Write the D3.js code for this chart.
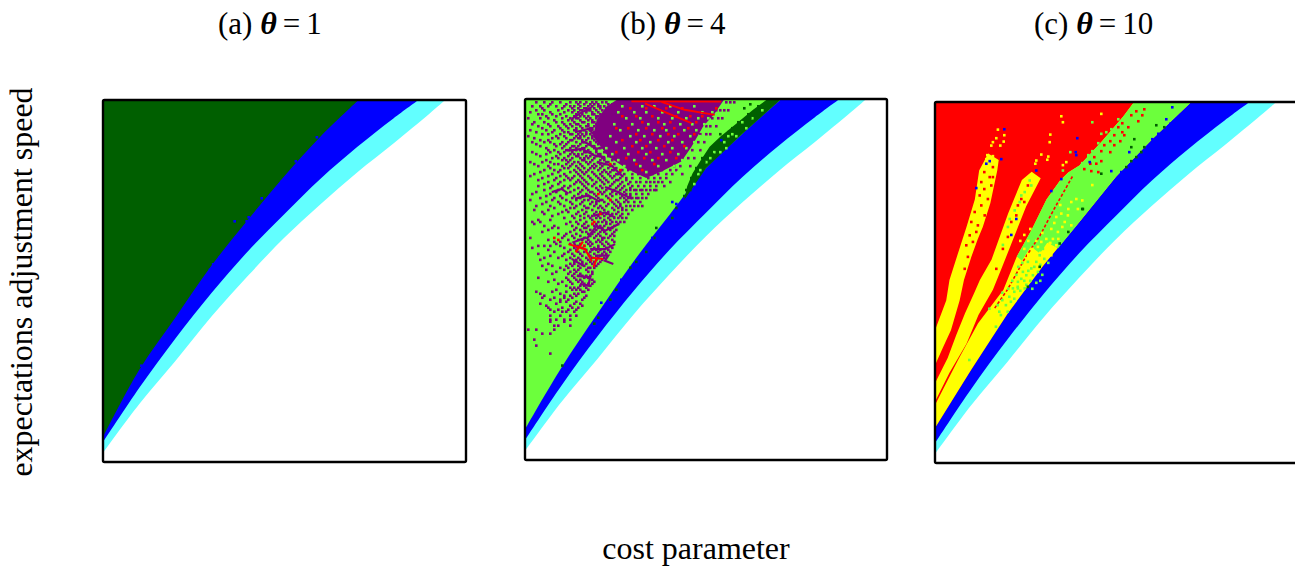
<!DOCTYPE html>
<html>
<head>
<meta charset="utf-8">
<script src="https://cdn.jsdelivr.net/npm/d3@7"></script>
<style>
  html, body { margin: 0; padding: 0; background: #fff; overflow: hidden; }
  text { font-family: "Liberation Serif", serif; fill: #000; }
</style>
</head>
<body>
<div id="chart"></div>
<script>
// region edges: [cost, speed], both as % of the frame
const whiteEdge = [[0,2.5],[10,16],[20,28],[30,40.3],[40,51.5],[50,62],[60,71.3],[70,80],[80,88],[90,96.3],[94.3,100]];
const cyanEdge = [[0,5.5],[10,20.5],[20,34.2],[30,46.8],[40,58.3],[50,68.5],[60,78.3],[70,87],[80,94.9],[86.9,100]];
const blueEdgeA = [[0,6.9],[10,25.5],[20,40],[30,54.4],[40,67],[50,79],[60,90],[70.4,100]];
const blueEdgeB = [[0,8.5],[10,25.5],[20,40.5],[30,55],[40,68],[50,80.8],[60,90.3],[70.8,100]];
const blueEdgeC = [[0,9.7],[10,25.8],[20,41.3],[30,54.8],[40,66.9],[50,79.3],[60,89.7],[70.8,100]];

// panel b shapes
const purpleCore = [[25.7,100],[55.1,100],[52.4,96],[49.2,92.4],[46,86.8],[43.2,82.7],[37.7,79.9],[33.5,78.1],[28.5,80.4],[23,84.1],[18.8,89.6],[19.8,94.2],[22.5,97.9]];
const darkBandB = [[67,100],[63,97],[58.5,93.3],[54,89.6],[51,86.8],[48.6,83.1],[46.3,79.4],[44.8,75.8],[44,72],[50,80.8],[60,90.3],[70.8,100]];
const purpleChains = [
  [[17,61.2],[19.8,64.9],[22.1,63.5],[25.8,65.3]],
  [[18,58.4],[22.1,58.4],[24.9,59.8]],
  [[19.8,56.6],[23,56.6],[22.1,55.2],[24.4,54.3]],
  [[12.9,55.7],[16.1,53.8]],
  [[14.3,51],[18,50.6],[17.5,48.3],[15.2,48.8]],
  [[18.9,67.6],[22.1,68.6],[24.9,67.2]],
  [[14.7,58.4],[13.4,60.3],[17,61.7]],
  [[12,85.7],[15.7,86.2],[19.3,84.3],[22.1,83.9]],
  [[19.8,82.5],[23.9,81.6],[26.7,78.8]],
  [[22.1,75.6],[25.8,74.2],[29.5,72.4]],
  [[13.8,72.4],[17.5,73.3],[20.7,71.5]],
  [[7.4,74.2],[10.1,75.1],[12,73.8]],
  [[12.9,94.5],[15.7,96.3],[18.4,97.7]],
  [[13.8,90.8],[17.5,91.7],[19.8,89.4]],
  [[16.6,88],[19.8,86.2],[23,87.1]]
];
const redStreaksB = [
  [[29.4,99.4],[54.2,99.3]],
  [[33.1,98.8],[39.5,96],[46,93.3]],
  [[37.7,99.2],[44.1,97],[52.4,95.6]],
  [[12,59.8],[16.6,58.4],[18.5,55]],
  [[16,60.5],[14,57.5]],
  [[18.5,56],[21.6,55.7]],
  [[19.8,55.7],[18.9,53.4]]
];

// panel c shapes
const yellowWedge1 = [[0,36.8],[3.1,45],[4,50.7],[6,57],[8.7,65.4],[11,73],[12.2,81],[14.7,85.7],[17.6,83.9],[17.2,81],[15.3,72],[13.2,65.4],[11.8,62],[10,57],[8,50.7],[6.8,45],[4.4,36.8],[2.2,32],[0,27.1]];
const yellowWedge2 = [[0,22.1],[3.5,29.1],[5.9,35.5],[8.3,41.5],[10.8,47],[12.4,50.7],[15.6,56.3],[20.2,69.1],[24,78.4],[26.7,80.7],[29.2,78.9],[25.2,71.1],[21.5,61.8],[18.6,54.4],[16,48],[12,41],[8.7,33],[4,25],[0,17]];
const mainBandC = [[0,16.1],[6.4,28.6],[11.9,38.7],[18.9,48],[22.6,57.2],[26.7,64.6],[30.8,73],[34.5,78.2],[36.8,80.5],[40,82.5],[46,89],[52,96],[55,100],[70.8,100],[60,89.7],[50,79.3],[40,66.9],[30,54.8],[20,41.3],[10,25.8],[0,9.7]];
const limeBandC = [[22.6,57.2],[26.7,64.6],[30.8,73],[34.5,78.2],[36.8,80.5],[40,82.5],[46,89],[52,96],[55,100],[70.8,100],[60,89.7],[50,79.3],[40,66.9],[34,59.5],[31,61],[29,58],[26.5,60],[24,56]];
const thinStripeC = [[16.5,42.9],[20,48],[25,57],[29,63],[32.7,70],[38.2,79.8]];

// single simulation cells, 181 x 181 grid: [row, [columns]]
const purpleRows = [
  [180,[5,9,13,17,22,25,27,30,33,35,38,40,100,102,104]],[179,[12,20,26,29,32,34,36,41,43]],
  [178,[3,7,11,15,19,22,24,27,31,33,36,37,39]],[177,[8,18,23,26,29,30,34,37,40,42]],
  [176,[5,9,16,21,24,27,28,31,32,35,38,95,97,99,101]],[175,[2,12,19,23,26,30,33,36,39,41]],
  [174,[6,8,13,17,25,28,33,34,37]],[173,[10,15,20,24,27,29,31,35,36,40]],
  [172,[1,7,11,18,22,25,26,30,32,35,38,93,96,98]],[171,[14,21,23,27,31,33,37,39,42]],
  [170,[4,9,15,18,24,28,29,33,34,36]],[169,[3,11,19,22,25,26,31,35,38,40]],
  [168,[6,12,16,20,23,27,30,31,34,90,92,95]],[167,[8,17,21,25,28,32,33,36,39]],
  [166,[2,10,14,18,24,25,29,32,33]],[165,[5,13,19,21,27,30,34,35,38,41]],
  [164,[8,11,17,22,23,26,28,30,32,87,90,92]],[163,[1,15,19,25,27,29,33,36,37]],
  [162,[4,13,16,20,24,26,27,31,33]],[161,[7,11,22,23,28,30,34,36,39]],
  [160,[3,9,12,18,21,25,28,29,32,35,83,86,89]],[159,[5,14,17,20,27,31,32,36,38,41]],
  [158,[7,15,19,23,24,26,30,33,34]],[157,[10,18,22,25,28,29,34,37,39]],
  [156,[11,14,20,21,25,27,31,35,80,83,87]],[155,[3,12,16,19,23,29,30,32,35,39,40]],
  [154,[5,10,17,22,24,26,28,33,36,37]],[153,[7,15,21,25,26,30,32,35,37,41,42]],
  [152,[13,16,19,23,27,29,31,34,38,39,78,81,84]],[151,[10,18,20,22,28,29,33,37,39,43]],
  [150,[2,8,12,21,24,26,30,32,36,40,41]],[149,[4,14,16,20,23,27,31,34,37,39,44]],
  [148,[6,11,18,22,25,28,33,35,38,42,74,77,82]],[147,[12,19,21,26,29,32,34,37,41,45]],
  [146,[9,14,17,24,27,31,36,39,43,44,48,51,55,58,62,65,68,72,75]],[145,[7,16,22,25,28,30,33,38,40,42,47]],
  [144,[4,13,19,26,29,34,37,41,45,46,49,53,56,60,63,66,70,73,78]],[143,[2,11,17,20,24,27,31,35,38,42,44,48]],
  [142,[8,15,21,23,28,32,36,39,43,47,50,53,57,61,64,67,70]],[141,[6,14,19,22,26,29,33,37,40,45,46,50]],
  [140,[11,17,25,27,30,35,38,41,44,48,52,55,57,60,62,64,66,68,72]],[139,[9,16,24,28,31,34,39,43,47,51]],
  [138,[6,13,19,22,29,33,37,42,46,49,53,56,59,62,65,69]],[137,[12,18,21,26,30,35,38,41,45,48,52]],
  [136,[9,16,24,28,31,36,40,44,47,50,52,54,55,57,58,60,62,64,65]],[135,[5,15,22,27,32,33,37,39,43,46,49]],
  [134,[3,12,20,26,30,34,38,42,45,47,50,52,55,58,61]],[133,[10,17,24,28,31,35,40,43,48,52]],
  [132,[7,14,18,23,27,32,36,41,47,49,51,53,55,56,58,60]],[131,[2,13,20,25,29,31,37,38,42,45,50]],
  [130,[10,16,22,28,33,35,39,43,46,49,51,54,57]],[129,[8,17,23,27,32,35,41,44,47]],
  [128,[5,12,19,25,29,34,37,40,45,47,50,52,54,56,58]],[127,[14,22,24,30,31,36,38,43,46,48]],
  [126,[4,11,20,28,33,39,44,48,50,53]],[125,[8,18,21,26,30,35,37,41,46]],
  [124,[9,16,25,29,34,38,40,43,45,48,51]],[123,[13,23,27,31,33,36,39,42,47]],
  [122,[19,24,29,32,35,37,41,44,46,48,50]],[121,[6,12,27,33,39,42]],
  [120,[3,7,22,25,30,36,38,40,43,45,47,49]],[119,[4,20,26,29,33,35,40,42,46]],
  [118,[9,14,23,28,31,34,37,39,44]],[117,[13,16,25,29,30,36,38,41,43]],
  [116,[11,24,27,32,35,38,42,45]],[115,[8,22,28,30,34,37,39,44]],
  [114,[16,20,25,31,33,36,40,43]],[113,[19,23,27,32,35,37,42,44]],
  [112,[2,18,24,29,34,38,39,41]],[111,[11,21,26,28,31,36,38,43]],
  [110,[14,17,30,32,35,37,40,44]],[109,[15,22,27,31,33,38,41]],
  [108,[6,9,12,17,24,26,29,32,36,39,42]],[107,[3,19,24,28,34,36,40,43]],
  [106,[11,22,25,30,33,35,37,41]],[105,[14,21,26,29,32,36,39,42]],
  [104,[6,19,23,27,31,34,38,40]],[103,[12,18,24,28,32,35,37]],
  [102,[9,16,22,26,30,33,36,39]],[101,[7,20,25,27,31,35,38]],
  [100,[24,28,32,34,37]],[99,[11,22,24,28,30,33,36]],
  [98,[8,13,20,23,26,29,35]],[97,[17,21,27,31,32,34]],[96,[10,19,24,26,30]],
  [95,[15,22,25,31,33]],[94,[13,21,24,27,33]],[93,[23,26,28,30,32]],[92,[6,20,24,29,31]],
  [91,[14,21,25,27,33]],[90,[11,18,22,26,28,34]],[89,[16,23,29,31,33]],[88,[20,27,29,32]],
  [87,[22,24,26,30]],[86,[15,23,25,27,31]],[85,[5,13,20,28,29]],[84,[7,17,24,26]],
  [83,[9,19,22,25,30]],[82,[8,14,19,23,29]],[81,[12,17,21,28]],[80,[17,20,25]],
  [79,[7,15,24,27]],[78,[10,22,28]],[77,[11,18,23,26]],[76,[12,16,21,25]],
  [75,[14,18,20,24]],[73,[12,17,22,25]],[71,[12,15,19,22]],
  [70,[12,19]],[68,[14,16,22]],[66,[1,5,14]],[64,[8,12]],[61,[4]],[58,[5]],[54,[12]]
];
const limeHoleRows = [
  [178,[48,58,64,72,84]],[175,[46,54,60,68,76,88,93]],[172,[50,57,66,73,80,86,91]],
  [169,[44,53,61,69,77,83,89]],[166,[47,56,64,70,79,85,90]],[163,[42,52,59,67,74,82,87]],
  [160,[45,55,62,71,78,84]],[157,[40,49,58,65,73,80,86]],[154,[43,51,60,68,76,82]],
  [151,[46,54,63,70,78]],[148,[49,57,66,74,80]],[145,[52,60,69,76]],
  [176,[118]],[172,[113]],[170,[108]],[167,[110]],[164,[103]],[163,[105,101]],[160,[99]],[157,[100]],
  [155,[94,97]],[152,[92]],[150,[90]],[146,[87]],[144,[86]],[139,[84]]
];
const redDotRows = [
  [177,[52,60,70,78,95]],[173,[48,55,63,75,82,88]],[170,[58,66,72,85]],
  [167,[45,51,60,68,74,81]],[164,[55,63,71,76,84]],[161,[48,57,66,73]],
  [158,[53,60,69,79]],[155,[45,56,62,72]],[152,[50,59,66,75]],[149,[42,55,64]],
  [146,[47,58]],[134,[36]],[131,[42]],[124,[37]],[120,[34]],[119,[33]],[112,[14]],[111,[16]],[108,[29]]
];
const darkDotsB = [[82.5,142],[85,145],[82,136],[75,127],[73,122],[65,117],[64,112],[60,105],[55,100],[52,97],[45,86],[42,81],[36,72],[34,69],[18,48],[97,164],[112,179],[109,177],[103,167],[93,154],[89,150],[112,172],
  [116,178],[111,174],[106,170],[101,165],[96,160],[92,156],[88,152],[85,147],[80,136],[79,133]];
const blueDotsB = [[73,130],[75,129],[63,112],[57,101],[47.5,91],[37.5,79.5],[97.5,161]];
const blueDotsA = [[106,163],[110.7,165],[102,155],[95.5,151],[88.5,141],[78.5,132.5],[82.3,133],[65,121],[72,123],[71,121],[57.7,103],[54.3,99.5],[52.7,96.7],[18.5,48.8],[12.7,35.3]];

const yellowDotsC = [[30.8,167.8],[34,165],[30,163.5],[33.7,161.8],[28.3,161.5],[27.5,159.8],[32,159.8],[25.5,155],[28.3,154.5],[25,153],[27.5,151.8],[25.5,149.8],[30,150.5],
  [62.5,174.5],[63.3,171.5],[57,165.3],[56.7,161.5],[52.5,155.3],[56,154.3],[55.5,152.7],[50,152.3],[49.5,150.7],[65,151.5],[63.3,150],[82.5,175.7],[78,140],[73,132.3],
  [70,133],[67.5,131.5],[62.5,125.7],[60,124],[57.5,118],[60.8,116.5],[64.2,121.5],[55,113],[58.3,113],[52.5,111.5],[56.7,110.7],[60,109.8],[50.8,109],[54.2,106.5],[57.5,104.8],[70.8,128],[65.8,124.8],[67.5,119.8],
  [44,115],[46,112],[48,108],[42,112],[44,108],[46,105],[49,105],[52,106],[55,104],[50,112],[53,116],[47,118],[57,111],[61,113],[63,119],[59,121],[66,128],[62,130]];
const limeDotsC = [[67,156.5],[72.5,150],[76,155],[63.3,147.3],[78,171.5],[81,161],[82.5,165.7],[85,166.5],[87.5,168],[91,173],[94,174],[78,157],[76,154],[73,151],
  [46.7,142.3],[44.2,136.5],[41.7,131.5],[42.5,134.8],[39.2,127.3],[35.8,119],[36.7,123],[33.3,110],[47.5,139.8],
  [40.8,91.5],[43.3,96.5],[45.8,101.5],[48.3,94.8],[51.7,104.8],[53.3,108],[44.2,88.2],[42.5,93],[47.5,98.2],[50,101.5],[45,94.8],[40.8,88.2],[38.3,88.2],[50.8,96.5],
  [30.7,79.8],[33,82.3],[36.5,84],[39,86.5],[40.7,89],[29.8,69],[32.3,74.8],[35.7,76.5],[26.5,78],[16.5,52.3],[37.3,81.5],[34.8,79.8],[31.5,76.5],
  [38,92],[40,95],[41,99],[43,101],[46,97],[49,99],[52,100],[54,103],[56,101],[47,92],[50,91],[53,95],[44,92],[36,88],[33,86],[39,83],[42,87],[45,90],[48,88],[52,92]];
const redDotsC = [[104,178],[100,177],[103,175],[97.5,175],[101,172],[93,171],[96,169],[91,169],[93,166.5],[89,165],[94,165],[87,162],[92,162],[84,160],[89,160],[82.5,157],[87,156.5],[79,154],[82.5,152],[77,150.7],[80,150.7],[74,148],[77.5,147],[81,146.5],
  [28.3,149],[24,146.5],[26.7,144],[28.3,144],[22.5,141.5],[27.5,139.8],[24,138],[21.7,134.8],[25.8,133],[22.5,129.8],[19.2,126.5],[24.2,124.8],[17.5,121.5],[20.8,119.8],[16.7,114.8],[20,116.5],[15,109.8],[18.3,111.5],[14.2,98],[15.8,104],
  [45.8,139.8],[42.5,133],[40.8,129.8],[44,131.5],[37.5,121.5],[40,124.8],[33.3,108],[35.8,114],[30,98]];
const blueDotsC = [[118,179],[115,173],[117,170.7],[108,163],[96.5,156.5],[87.5,147],[92.5,146.5],[111,165.7],[34,168],[32.5,153],[26.7,152],[25,150.7],[70.5,163.5],[69.7,156.5],[70,155],[76.7,151.5],[50,147.3],[62.5,143],[57.5,137],[20,138.5],[40,123],[37.5,115]];
const darkDotsC = [[110,170],[114,169],[99,163],[97.5,159],[104,159],[102.5,156.5],[100,154],[97.5,152],[95,149],[82.5,145.7],[73,128],[73.3,128],[66,116.5],[61.7,110.7],[51.7,99],[45.8,89]];

const titleLetters = ["(a) ", "(b) ", "(c) "];
const thetaValues = ["1", "4", "10"];
const xLabel = "cost parameter";
const yLabel = "expectations adjustment speed";

const colors = { white: "#fff", cyan: "#62ffff", blue: "#0000ff", dark: "#005f00", lime: "#6cff3c", purple: "#800080", red: "#ff0000", yellow: "#ffff00" };

const svg = d3.select("#chart").append("svg").attr("width", 1295).attr("height", 570);

// frame position of each panel on the page
const frames = [
  { l: 103, r: 466, t: 100, b: 462, titleX: 218 },
  { l: 525, r: 887, t: 99, b: 460, titleX: 620 },
  { l: 935, r: 1297, t: 102, b: 463, titleX: 1034 }
];

function flatten(rows) {
  return rows.flatMap(([row, cols]) => cols.map(c => [c, row]));
}

function makePanel(i) {
  const f = frames[i];
  const x = d3.scaleLinear().domain([0, 100]).range([f.l, f.r]);
  const y = d3.scaleLinear().domain([0, 100]).range([f.b, f.t]);
  const cellX = d3.scaleLinear().domain([0, 181]).range([f.l, f.r]);
  const cellY = d3.scaleLinear().domain([0, 181]).range([f.b, f.t]);

  svg.append("clipPath").attr("id", "clip" + i)
    .append("rect").attr("x", f.l).attr("y", f.t).attr("width", f.r - f.l).attr("height", f.b - f.t);

  const g = svg.append("g").attr("clip-path", "url(#clip" + i + ")");

  const above = d3.area().x(d => x(d[0])).y0(f.t).y1(d => y(d[1])).curve(d3.curveCatmullRom);
  const poly = d3.line().x(d => x(d[0])).y(d => y(d[1]));

  const panel = {
    area(edge, fill) { g.append("path").attr("d", above(edge)).attr("fill", fill); },
    shape(pts, fill) { g.append("path").attr("d", poly(pts) + "Z").attr("fill", fill); },
    line(pts, color, w, dash) {
      g.append("path").attr("d", poly(pts)).attr("fill", "none")
        .attr("stroke", color).attr("stroke-width", w).attr("stroke-dasharray", dash || null);
    },
    dots(cells, fill) {
      g.append("g").selectAll("rect")
        .data(cells).join("rect")
        .attr("x", d => cellX(d[0]))
        .attr("y", d => cellY(d[1]))
        .attr("width", 2.6).attr("height", 2.6)
        .attr("fill", fill);
    },
    frame() {
      svg.append("rect").attr("x", f.l).attr("y", f.t)
        .attr("width", f.r - f.l).attr("height", f.b - f.t).attr("rx", 1.5)
        .attr("fill", "none").attr("stroke", "#000").attr("stroke-width", 2.4);
    }
  };

  // the title is common to all three
  const title = svg.append("text").attr("x", f.titleX).attr("y", 34).attr("font-size", 31);
  title.append("tspan").text(titleLetters[i]);
  title.append("tspan").attr("font-style", "italic").attr("font-weight", "bold").attr("font-size", 32).text("\u03B8");
  title.append("tspan").attr("dx", 6).text("=");
  title.append("tspan").attr("dx", 6).text(thetaValues[i]);

  panel.area(whiteEdge, colors.cyan);
  panel.area(cyanEdge, colors.blue);
  return panel;
}

// (a)
const a = makePanel(0);
a.area(blueEdgeA, colors.dark);
a.dots(blueDotsA, colors.blue);
a.frame();

// (b)
const b = makePanel(1);
b.area(blueEdgeB, colors.lime);
b.shape(darkBandB, colors.dark);
b.shape(purpleCore, colors.purple);
b.dots(flatten(purpleRows), colors.purple);
purpleChains.forEach(s => b.line(s, colors.purple, 2.2));
b.dots(flatten(limeHoleRows), colors.lime);
b.dots(flatten(redDotRows), colors.red);
redStreaksB.forEach(s => b.line(s, colors.red, 2));
b.dots(darkDotsB, colors.dark);
b.dots(blueDotsB, colors.blue);
b.frame();

// (c)
const c = makePanel(2);
c.area(blueEdgeC, colors.red);
c.shape(yellowWedge1, colors.yellow);
c.shape(yellowWedge2, colors.yellow);
c.shape(mainBandC, colors.yellow);
c.shape(limeBandC, colors.lime);
c.line(thinStripeC, colors.red, 1.6, "3 2");
c.dots(yellowDotsC, colors.yellow);
c.dots(limeDotsC, colors.lime);
c.dots(redDotsC, colors.red);
c.dots(blueDotsC, colors.blue);
c.dots(darkDotsC, colors.dark);
c.frame();

svg.append("text").attr("x", 696).attr("y", 559).attr("text-anchor", "middle")
  .attr("font-size", 32).text(xLabel);

svg.append("text").attr("transform", "translate(32,282) rotate(-90)")
  .attr("text-anchor", "middle").attr("font-size", 32).text(yLabel);
</script>
</body>
</html>
